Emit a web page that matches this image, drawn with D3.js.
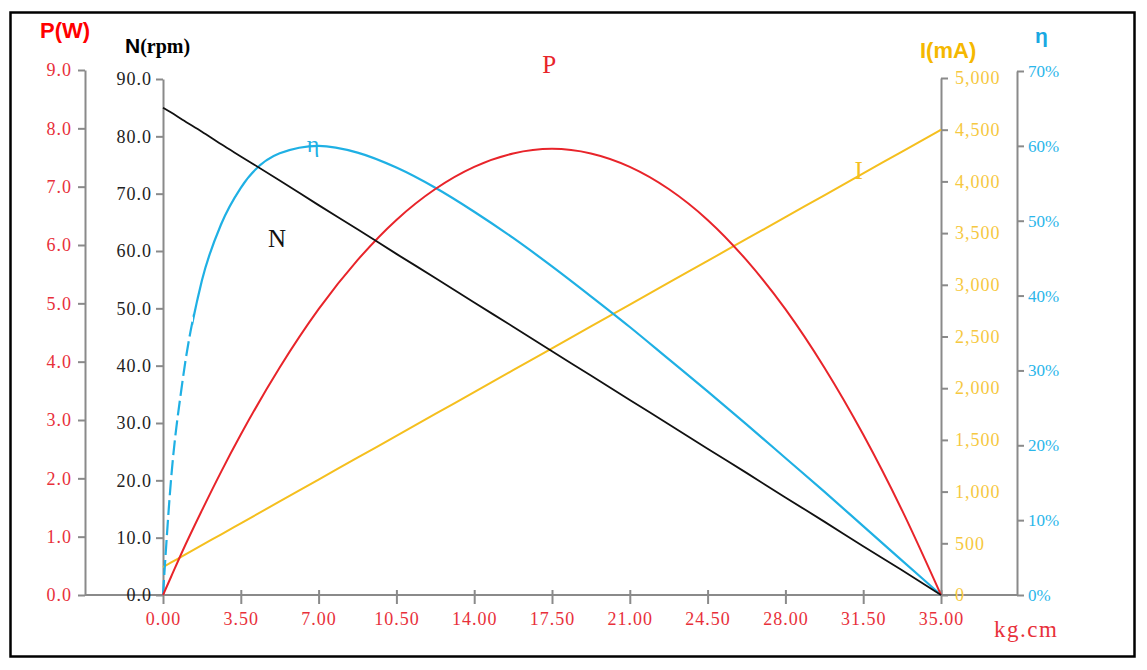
<!DOCTYPE html>
<html>
<head>
<meta charset="utf-8">
<script src="https://cdn.jsdelivr.net/npm/d3@7"></script>
<style>
  html, body { margin: 0; padding: 0; background: #fff; }
  svg { display: block; }
</style>
</head>
<body>
<script>
// DATA
var torque     = [0, 0.35, 0.875, 1.75, 2.625, 3.5, 5.25, 7, 8.75, 10.5, 12.25, 14, 15.75, 17.5,
                  19.25, 21, 22.75, 24.5, 26.25, 28, 29.75, 31.5, 33.25, 35];          // kg.cm
var speed      = [85, 84.2, 82.9, 80.8, 78.6, 76.5, 72.3, 68, 63.8, 59.5, 55.3, 51, 46.8, 42.5,
                  38.3, 34, 29.8, 25.5, 21.3, 17, 12.8, 8.5, 4.3, 0];                   // N (rpm)
var power      = [0, 0.30, 0.75, 1.45, 2.12, 2.75, 3.90, 4.90, 5.74, 6.43, 6.96, 7.34, 7.57, 7.65,
                  7.57, 7.34, 6.96, 6.43, 5.74, 4.90, 3.90, 2.75, 1.45, 0];            // P (W)
var current    = [270, 312, 376, 482, 587, 693, 905, 1116, 1328, 1539, 1751, 1962, 2174, 2385,
                  2597, 2808, 3020, 3231, 3443, 3654, 3866, 4077, 4289, 4500];         // I (mA)
var efficiency = [0, 15.0, 28.5, 42.0, 49.6, 54.4, 59.0, 60.0, 59.1, 57.1, 54.4, 51.2, 47.7, 43.9,
                  39.9, 35.8, 31.5, 27.2, 22.8, 18.3, 13.8, 9.2, 4.6, 0];              // η (%)

// tick values
var torqueTicks  = [0, 3.5, 7, 10.5, 14, 17.5, 21, 24.5, 28, 31.5, 35];
var powerTicks   = [0, 1, 2, 3, 4, 5, 6, 7, 8, 9];
var speedTicks   = [0, 10, 20, 30, 40, 50, 60, 70, 80, 90];
var currentTicks = [0, 500, 1000, 1500, 2000, 2500, 3000, 3500, 4000, 4500, 5000];
var effTicks     = [0, 10, 20, 30, 40, 50, 60, 70];

// SETUP
var width = 1147, height = 670,
    x0 = 163, x1 = 941, yBase = 595;

var serif = "'Liberation Serif', 'DejaVu Serif', serif",
    sans = "'Liberation Sans', Arial, sans-serif",
    axisGray = "#8a8a8a";

var cRed = "#e8242a", cBlack = "#111", cGold = "#f5bf1e", cBlue = "#1fb0e4";

var svg = d3.select("body").append("svg")
    .attr("width", width)
    .attr("height", height);

svg.append("rect")
    .attr("x", 10.5).attr("y", 12.5)
    .attr("width", 1124).attr("height", 644)
    .attr("fill", "#fff")
    .attr("stroke", "#000")
    .attr("stroke-width", 2.5);

var x  = d3.scaleLinear().domain([0, 35]).range([x0, x1]),
    yP = d3.scaleLinear().domain([0, 9]).range([yBase, 70]),
    yN = d3.scaleLinear().domain([0, 90]).range([yBase, 79]),
    yI = d3.scaleLinear().domain([0, 5000]).range([yBase, 78]),
    yE = d3.scaleLinear().domain([0, 70]).range([yBase, 71]);

function styleAxis(g, color, size) {
  g.attr("font-family", serif).attr("font-size", size);
  g.select(".domain").attr("stroke", axisGray).attr("stroke-width", 2);
  g.selectAll(".tick line").attr("stroke", axisGray).attr("stroke-width", 2);
  g.selectAll(".tick text").attr("fill", color).attr("letter-spacing", 1);
}

// AXES
// x axis baseline spans from the P axis to the η axis
svg.append("line")
    .attr("x1", 85).attr("x2", 1017)
    .attr("y1", yBase).attr("y2", yBase)
    .attr("stroke", axisGray)
    .attr("stroke-width", 2);

var gx = svg.append("g")
    .attr("transform", "translate(0," + yBase + ")")
    .call(d3.axisBottom(x).tickValues(torqueTicks).tickFormat(d3.format(".2f"))
      .tickSize(9).tickSizeOuter(0).tickPadding(8));
styleAxis(gx, "#e8303a", 18);
gx.select(".domain").remove();
gx.selectAll(".tick line").attr("y1", -5);

var gP = svg.append("g")
    .attr("transform", "translate(85,0)")
    .call(d3.axisLeft(yP).tickValues(powerTicks).tickFormat(d3.format(".1f"))
      .tickSize(7).tickSizeOuter(0).tickPadding(6));
styleAxis(gP, "#e8303a", 18);

var gN = svg.append("g")
    .attr("transform", "translate(" + x0 + ",0)")
    .call(d3.axisLeft(yN).tickValues(speedTicks).tickFormat(d3.format(".1f"))
      .tickSize(7).tickSizeOuter(0).tickPadding(4));
styleAxis(gN, "#222", 18);

var gI = svg.append("g")
    .attr("transform", "translate(" + x1 + ",0)")
    .call(d3.axisRight(yI).tickValues(currentTicks).tickFormat(d3.format(","))
      .tickSize(7).tickSizeOuter(0).tickPadding(7));
styleAxis(gI, "#f6c840", 18);

var gE = svg.append("g")
    .attr("transform", "translate(1017,0)")
    .call(d3.axisRight(yE).tickValues(effTicks).tickFormat(function(d) { return d + "%"; })
      .tickSize(7).tickSizeOuter(0).tickPadding(4));
styleAxis(gE, "#2bb6ea", 17);
gE.selectAll(".tick text").attr("letter-spacing", 0);

// AXIS TITLES
svg.append("text")
    .attr("x", 40).attr("y", 38)
    .attr("font-family", sans).attr("font-weight", "bold").attr("font-size", 22)
    .attr("fill", "#f00")
    .text("P(W)");

var tN = svg.append("text")
    .attr("x", 125).attr("y", 53)
    .attr("font-weight", "bold")
    .attr("fill", "#000");
tN.append("tspan").attr("font-family", sans).attr("font-size", 21).text("N");
tN.append("tspan").attr("font-family", serif).attr("font-size", 20).text("(rpm)");

svg.append("text")
    .attr("x", 920).attr("y", 58)
    .attr("font-family", sans).attr("font-weight", "bold").attr("font-size", 22)
    .attr("fill", "#f5b800")
    .text("I(mA)");

svg.append("text")
    .attr("x", 1035).attr("y", 43)
    .attr("font-family", sans).attr("font-weight", "bold").attr("font-size", 21)
    .attr("fill", "#1aa8e2")
    .text("η");

svg.append("text")
    .attr("x", 994).attr("y", 637)
    .attr("font-family", serif).attr("font-size", 23)
    .attr("letter-spacing", 1.5)
    .attr("fill", "#e8303a")
    .text("kg.cm");

// CURVES
function pts(vals) { return torque.map(function(t, i) { return [t, vals[i]]; }); }

function lineFor(y) {
  return d3.line()
      .x(function(d) { return x(d[0]); })
      .y(function(d) { return y(d[1]); })
      .curve(d3.curveMonotoneX);
}

var defs = svg.append("defs");
var dashEnd = x(1.35);
defs.append("clipPath").attr("id", "dashClip")
  .append("rect").attr("x", 0).attr("y", 0).attr("width", dashEnd).attr("height", height);
defs.append("clipPath").attr("id", "solidClip")
  .append("rect").attr("x", dashEnd).attr("y", 0).attr("width", width - dashEnd).attr("height", height);

svg.append("path")
    .attr("fill", "none")
    .attr("stroke", cGold)
    .attr("stroke-width", 2)
    .attr("d", lineFor(yI)(pts(current)));

svg.append("path")
    .attr("fill", "none")
    .attr("stroke", cBlue)
    .attr("stroke-width", 2.2)
    .attr("clip-path", "url(#solidClip)")
    .attr("d", lineFor(yE)(pts(efficiency)));

svg.append("path")
    .attr("fill", "none")
    .attr("stroke", cBlue)
    .attr("stroke-width", 2.2)
    .attr("stroke-dasharray", "15,5")
    .attr("clip-path", "url(#dashClip)")
    .attr("d", lineFor(yE)(pts(efficiency)));

svg.append("path")
    .attr("fill", "none")
    .attr("stroke", cRed)
    .attr("stroke-width", 2)
    .attr("d", lineFor(yP)(pts(power)));

svg.append("path")
    .attr("fill", "none")
    .attr("stroke", cBlack)
    .attr("stroke-width", 1.8)
    .attr("d", lineFor(yN)(pts(speed)));

// CURVE LABELS (placed in data space)
function curveLabel(t, y, v, txt, color, size) {
  svg.append("text")
      .attr("x", x(t)).attr("y", y(v))
      .attr("text-anchor", "middle")
      .attr("font-family", serif).attr("font-size", size)
      .attr("fill", color)
      .text(txt);
}
curveLabel(17.37, yP, 8.95, "P", "#e8242a", 25);
curveLabel(5.13, yN, 60.7, "N", "#111", 25);
curveLabel(6.75, yE, 59.2, "η", cBlue, 24);
curveLabel(31.3, yI, 4023, "I", "#f5bf1e", 25);
</script>
</body>
</html>
